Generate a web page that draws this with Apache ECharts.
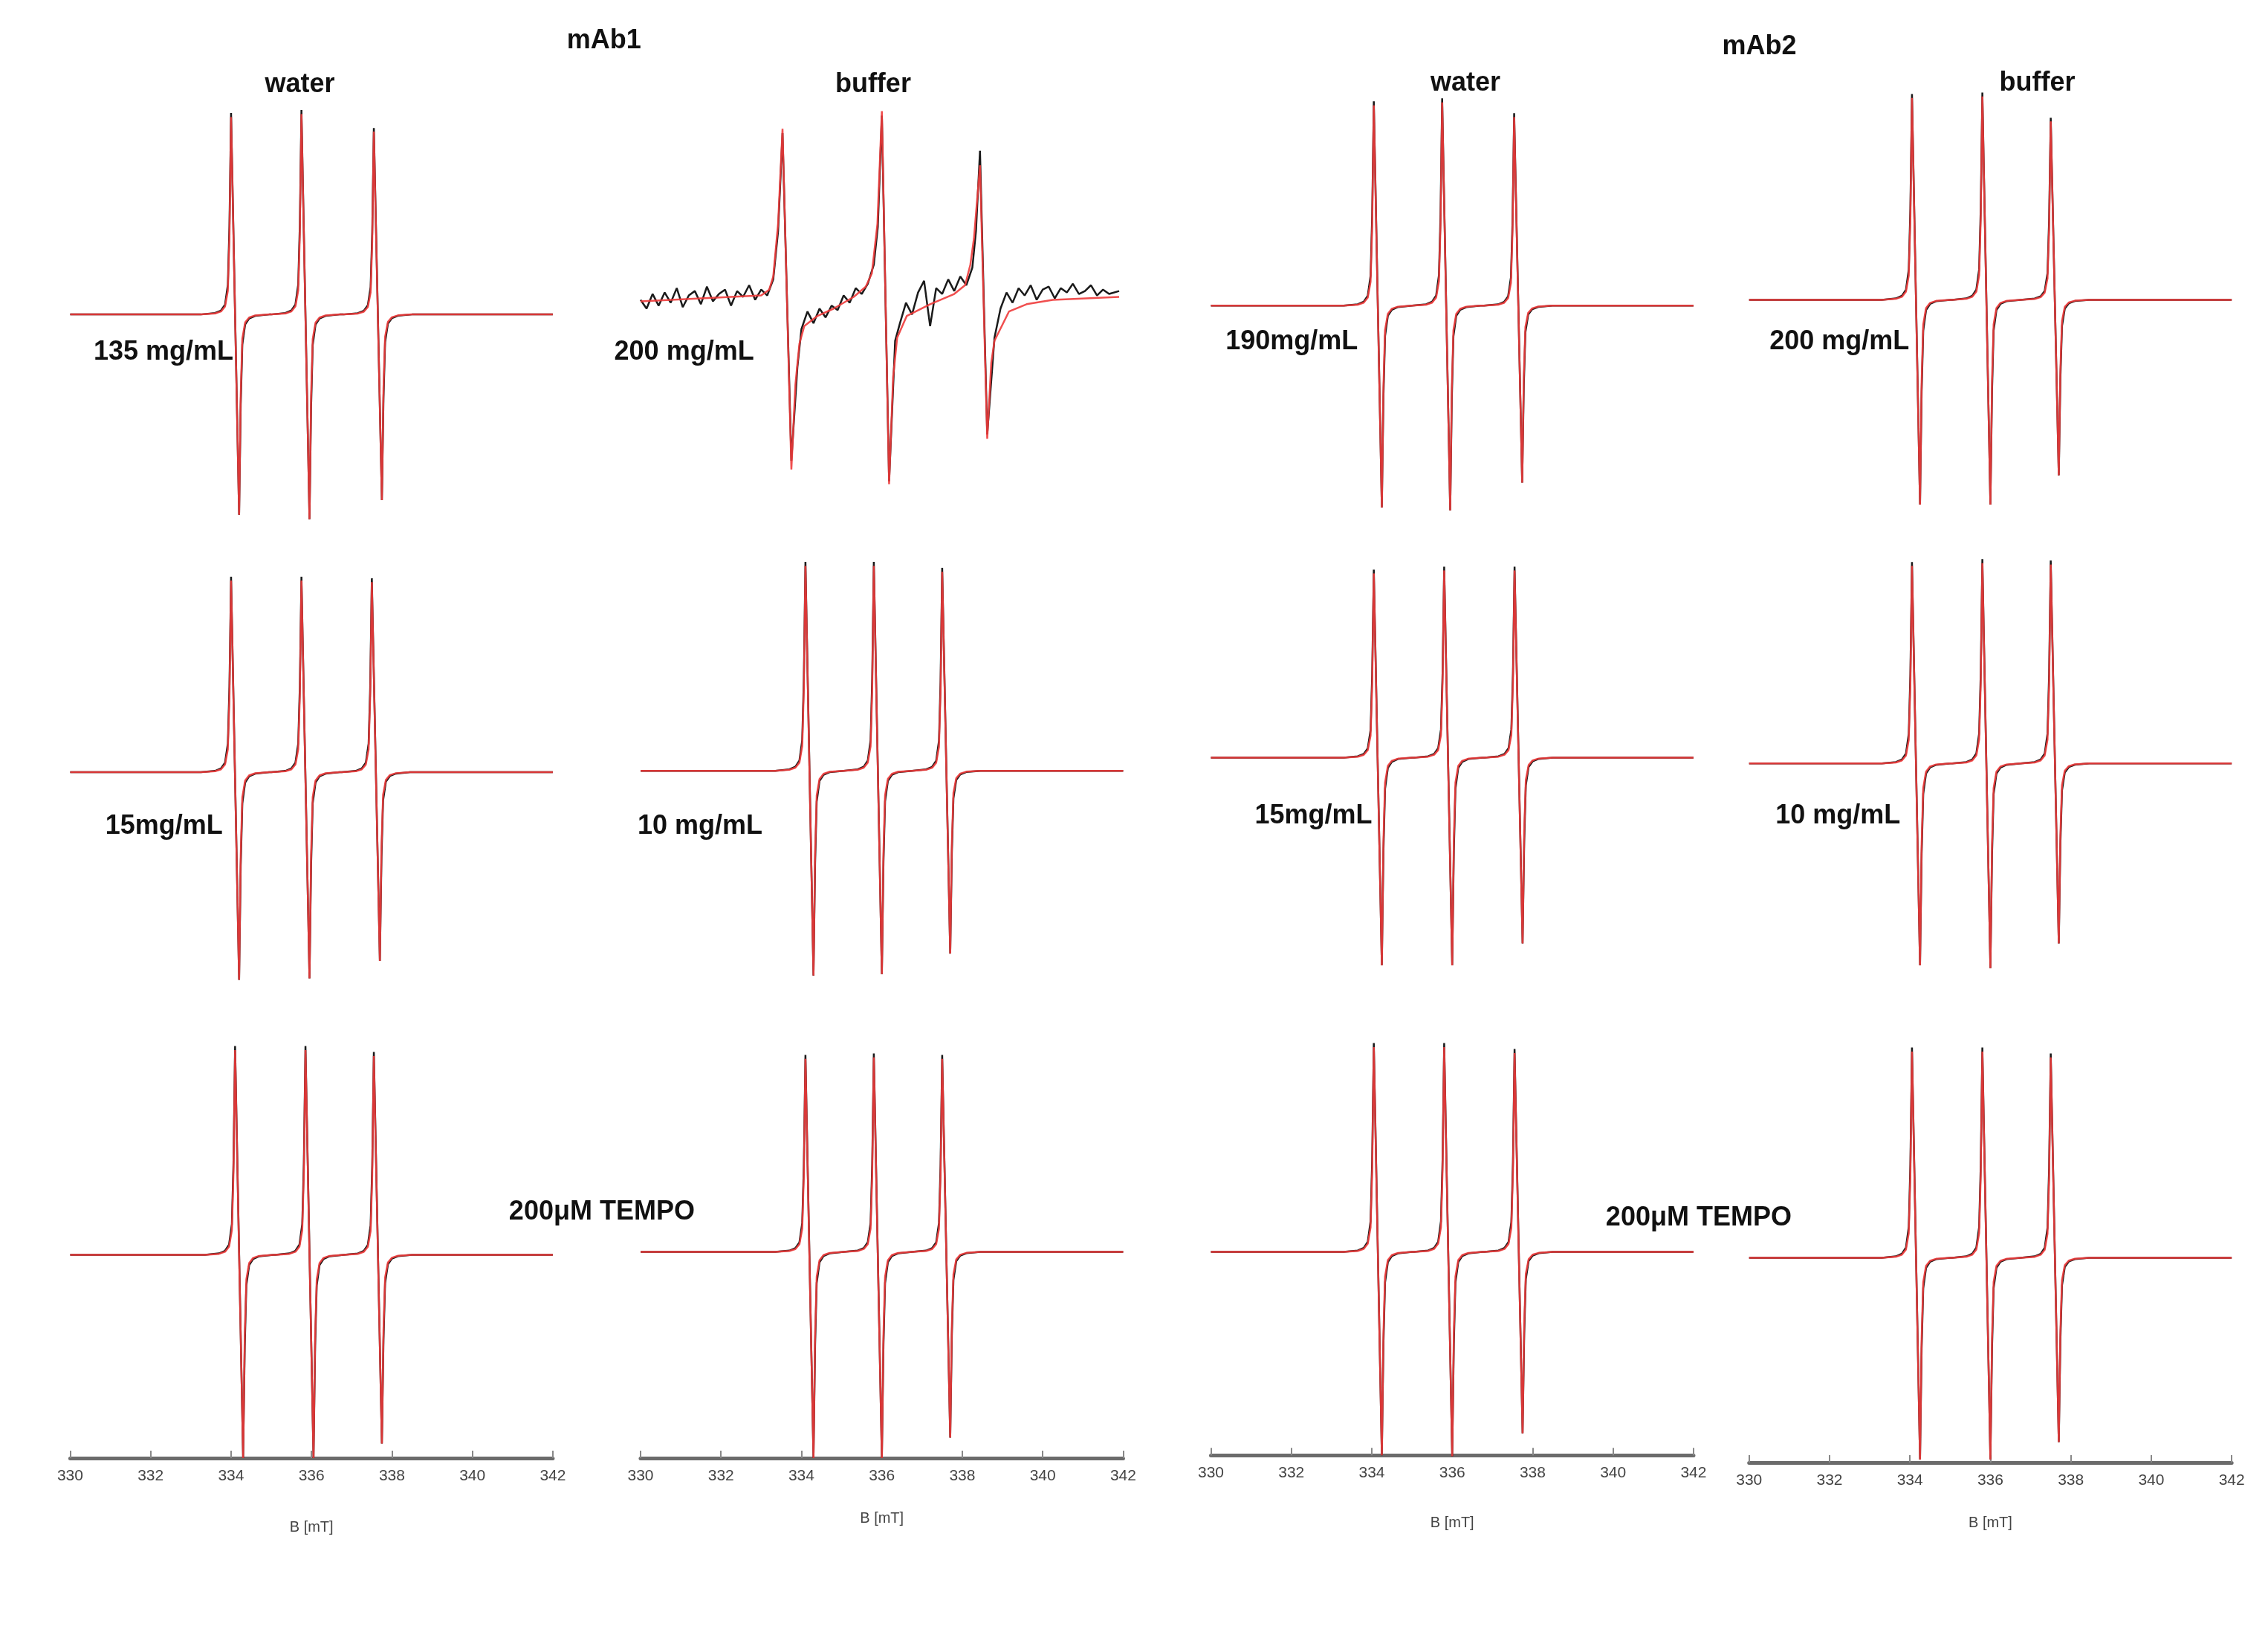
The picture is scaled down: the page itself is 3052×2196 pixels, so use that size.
<!DOCTYPE html>
<html>
<head>
<meta charset="utf-8">
<script src="https://cdn.jsdelivr.net/npm/echarts@6/dist/echarts.min.js"></script>
<style>html,body{margin:0;background:#fff}#c{width:3052px;height:2196px}</style>
</head>
<body>
<div id="c"></div>
<script>
var S = 1.968;
var ticks = [330, 332, 334, 336, 338, 340, 342];

// line centres (mT), positive and negative peak amplitudes (arb. units) for each panel
var centres = [
  [334.1, 335.85, 337.65], [333.53, 336.0, 338.44], [334.15, 335.85, 337.64], [334.15, 335.9, 337.6],
  [334.1, 335.85, 337.6], [334.2, 335.9, 337.6], [334.15, 335.9, 337.65], [334.15, 335.9, 337.6],
  [334.2, 335.95, 337.65], [334.2, 335.9, 337.6], [334.15, 335.9, 337.65], [334.15, 335.9, 337.6]
];
var upAmp = [
  [135, 137, 125], null, [137, 139, 129], [138, 139, 122],
  [131, 131, 130], [140, 140, 136], [126, 128, 128], [135, 137, 136],
  [140, 140, 136], [132, 133, 132], [140, 140, 136], [141, 141, 137]
];
var downAmp = [
  [137, 140, 127], null, [138, 140, 121], [140, 140, 120],
  [142, 141, 129], [140, 139, 125], [142, 142, 127], [138, 140, 123],
  [139, 139, 129], [141, 141, 127], [139, 140, 124], [138, 138, 126]
];
// mAb1 buffer 200 mg/mL, read point by point
var p2RedX = [330.0, 333.0, 333.2, 333.3, 333.42, 333.53, 333.75, 333.85, 333.95, 334.07, 334.4, 334.8, 335.3, 335.6, 335.75, 335.89, 336.0, 336.18, 336.28, 336.38, 336.62, 337.2, 337.8, 338.07, 338.2, 338.29, 338.44, 338.62, 338.72, 338.8, 339.16, 339.6, 340.25, 341.9];
var p2RedY = [-3, 1, 5, 14, 50, 115, -118, -60, -32, -20, -13, -8, 0, 7, 16, 50, 127, -128, -55, -28, -13, -5, 2, 8, 22, 40, 90, -97, -45, -30, -10, -5, -2, 0];
var p2BlackX = [330.0, 330.15, 330.3, 330.45, 330.6, 330.75, 330.9, 331.05, 331.2, 331.35, 331.5, 331.65, 331.8, 331.95, 332.1, 332.25, 332.4, 332.55, 332.7, 332.85, 333.0, 333.15, 333.3, 333.42, 333.53, 333.75, 333.9,
  334.0, 334.15, 334.3, 334.45, 334.6, 334.75, 334.9, 335.05, 335.2, 335.35, 335.5, 335.65, 335.8, 335.9, 336.0, 336.18, 336.33,
  336.45, 336.6, 336.75, 336.9, 337.05, 337.2, 337.35, 337.5, 337.65, 337.8, 337.95, 338.1, 338.25, 338.34, 338.44, 338.62, 338.8,
  338.95, 339.1, 339.25, 339.4, 339.55, 339.7, 339.85, 340.0, 340.15, 340.3, 340.45, 340.6, 340.75, 340.9, 341.05, 341.2, 341.35, 341.5, 341.65, 341.9];
var p2BlackY = [-2, -8, 2, -6, 3, -4, 6, -7, 1, 4, -5, 7, -3, 2, 5, -6, 4, 0, 8, -2, 5, 1, 12, 45, 112, -112, -48,
  -22, -10, -18, -8, -14, -6, -9, 1, -4, 6, 2, 9, 22, 48, 124, -126, -30,
  -18, -4, -12, 3, 11, -20, 6, 2, 12, 4, 14, 8, 20, 45, 100, -94, -28,
  -8, 3, -4, 6, 1, 8, -2, 5, 7, -1, 6, 3, 9, 2, 4, 8, 1, 5, 2, 4];
// first-derivative lineshape: offset (mT), fraction of peak
var shapeDx = [-0.85, -0.5, -0.35, -0.25, -0.18, -0.14, -0.1, 0.1, 0.14, 0.18, 0.25, 0.35, 0.5, 0.85];
var shapeRed = [0, 0.005, 0.015, 0.04, 0.12, 0.4, 1, -1, -0.4, -0.12, -0.04, -0.015, -0.005, 0];
var shapeBlack = [0, 0.007, 0.02, 0.05, 0.15, 0.45, 1.02, -1, -0.45, -0.15, -0.05, -0.02, -0.007, 0];

// layout (display units of the original figure)
var colL = [48, 438, 828, 1196];
var colR = [378, 768, 1158, 1526];
var base = [215, 203, 209, 205, 528, 527, 518, 522, 858, 856, 856, 860];
var axisY = [997, 997, 995, 1000];
var nameGap = [32, 26, 31, 26];

function trace(i, shape) {
  var pts = [[330, 0]];
  for (var k = 0; k < 3; k++) {
    for (var j = 0; j < shape.length; j++) {
      var a = shape[j] > 0 ? upAmp[i][k] : downAmp[i][k];
      pts.push([centres[i][k] + shapeDx[j], shape[j] * a]);
    }
  }
  pts.push([342, 0]);
  return pts;
}
function zip(xs, ys) { return xs.map(function (x, j) { return [x, ys[j]]; }); }

var grids = [], xAxes = [], yAxes = [], series = [];
for (var i = 0; i < 12; i++) {
  var c = i % 4, r = Math.floor(i / 4);
  var ymax = 160, ymin = r < 2 ? -160 : -(axisY[c] - base[i]);
  grids.push({ left: colL[c] * S, width: (colR[c] - colL[c]) * S, top: (base[i] - ymax) * S, height: (ymax - ymin) * S });
  xAxes.push({
    gridIndex: i, type: 'value', min: 330, max: 342, interval: 2, show: r === 2,
    axisLine: { onZero: false, lineStyle: { color: '#6b6b6b', width: 5 } },
    axisTick: { inside: true, length: 10, lineStyle: { color: '#888', width: 2 } },
    axisLabel: { color: '#444', fontSize: 21, fontFamily: 'Liberation Sans Narrow, Liberation Sans', margin: 14 },
    splitLine: { show: false },
    name: 'B [mT]', nameLocation: 'middle', nameGap: nameGap[c] * S + 20,
    nameTextStyle: { color: '#444', fontSize: 20, fontFamily: 'Liberation Sans Narrow, Liberation Sans' }
  });
  yAxes.push({ gridIndex: i, type: 'value', min: ymin, max: ymax, show: false });
  var black = i === 1 ? zip(p2BlackX, p2BlackY) : trace(i, shapeBlack);
  var red = i === 1 ? zip(p2RedX, p2RedY) : trace(i, shapeRed);
  series.push({ type: 'line', xAxisIndex: i, yAxisIndex: i, data: black, symbol: 'none', silent: true,
    lineStyle: { color: '#1a1a1a', width: 2.5 } });
  series.push({ type: 'line', xAxisIndex: i, yAxisIndex: i, data: red, symbol: 'none', silent: true,
    lineStyle: { color: '#ee3b3b', width: 2.5, opacity: 0.9 } });
}

var texts = [
  ['mAb1', 413, 28, 'center'], ['mAb2', 1203, 32, 'center'],
  ['water', 205, 58, 'center'], ['buffer', 597, 58, 'center'], ['water', 1002, 57, 'center'], ['buffer', 1393, 57, 'center'],
  ['135 mg/mL', 64, 241, 'left'], ['200 mg/mL', 420, 241, 'left'], ['190mg/mL', 838, 234, 'left'], ['200 mg/mL', 1210, 234, 'left'],
  ['15mg/mL', 72, 565, 'left'], ['10 mg/mL', 436, 565, 'left'], ['15mg/mL', 858, 558, 'left'], ['10 mg/mL', 1214, 558, 'left'],
  ['200μM TEMPO', 348, 829, 'left'], ['200μM TEMPO', 1098, 833, 'left']
];
var graphic = texts.map(function (t) {
  return { type: 'text', left: t[3] === 'left' ? t[1] * S : undefined, x: t[3] === 'center' ? t[1] * S : undefined,
    y: t[2] * S, z: 100,
    style: { text: t[0], fill: '#111', font: 'bold 36px "Liberation Sans Narrow", "Liberation Sans"',
      textAlign: t[3], textVerticalAlign: 'middle' } };
});

var chart = echarts.init(document.getElementById('c'));
chart.setOption({
  animation: false,
  backgroundColor: '#fff',
  grid: grids, xAxis: xAxes, yAxis: yAxes, series: series,
  graphic: graphic
});
</script>
</body>
</html>
